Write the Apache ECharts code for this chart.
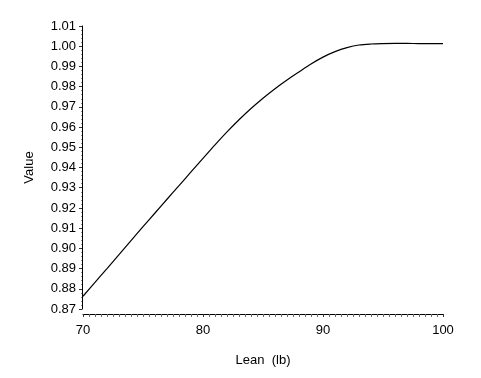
<!DOCTYPE html>
<html>
<head>
<meta charset="utf-8">
<script src="https://cdn.jsdelivr.net/npm/echarts@6/dist/echarts.min.js"></script>
<style>html,body{margin:0;padding:0;background:#fff;}#c{width:481px;height:378px;}</style>
</head>
<body>
<div id="c"></div>
<script>
var leanValues = [70, 71, 72, 73, 74, 75, 76, 77, 78, 79, 80, 81, 82, 83, 84, 85, 86, 87, 88, 89, 90, 91, 92, 93, 94, 95, 96, 97, 98, 99, 100];
var curveValues = [0.8763, 0.8832, 0.8900, 0.8969, 0.9038, 0.9107, 0.9175, 0.9243, 0.9310, 0.9378, 0.9445,
                   0.9512, 0.9576, 0.9636, 0.9692, 0.9743, 0.9790, 0.9833, 0.9873, 0.9912, 0.9946,
                   0.9973, 0.9993, 1.0006, 1.0011, 1.0013, 1.0014, 1.0014, 1.0013, 1.0013, 1.0013];
var xTicks = [70, 80, 90, 100];
var yTickMin = 0.87, yTickMax = 1.01, yTickStep = 0.01;

var chart = echarts.init(document.getElementById('c'), null, {renderer: 'canvas'});
var font = '"Liberation Sans", Arial, sans-serif';
chart.setOption({
  animation: false,
  backgroundColor: '#fff',
  grid: {left: 83, right: 38, top: 26, bottom: 69},
  xAxis: {
    type: 'value', min: 70, max: 100, interval: 10, offset: 5,
    name: 'Lean  (lb)', nameLocation: 'middle', nameGap: 40,
    nameTextStyle: {color: '#000', fontSize: 13, fontFamily: font},
    axisLine: {lineStyle: {color: '#000', width: 1}},
    axisTick: {show: true, length: 3, inside: false, lineStyle: {color: '#333'}},
    minorTick: {show: true, splitNumber: 20, length: 3, lineStyle: {color: '#666'}},
    axisLabel: {color: '#000', fontSize: 13, fontFamily: font, margin: 10,
      formatter: function (v) { return xTicks.indexOf(v) >= 0 ? String(v) : ''; }},
    splitLine: {show: false}
  },
  yAxis: {
    type: 'value', min: yTickMin, max: yTickMax, interval: yTickStep, offset: 1,
    name: 'Value', nameLocation: 'middle', nameGap: 46, nameRotate: 90,
    nameTextStyle: {color: '#000', fontSize: 13, fontFamily: font},
    axisLine: {show: true, lineStyle: {color: '#000', width: 1}},
    axisTick: {show: true, length: 3, lineStyle: {color: '#333'}},
    minorTick: {show: true, splitNumber: 5, length: 1, lineStyle: {color: '#888'}},
    axisLabel: {color: '#000', fontSize: 13, fontFamily: font, margin: 6,
      formatter: function (v) { return v.toFixed(2); }},
    splitLine: {show: false}
  },
  series: [{
    type: 'line',
    data: leanValues.map(function (x, i) { return [x, curveValues[i]]; }),
    showSymbol: false,
    smooth: 0.3,
    lineStyle: {color: '#000', width: 1.2},
    silent: true
  }]
});
</script>
</body>
</html>
